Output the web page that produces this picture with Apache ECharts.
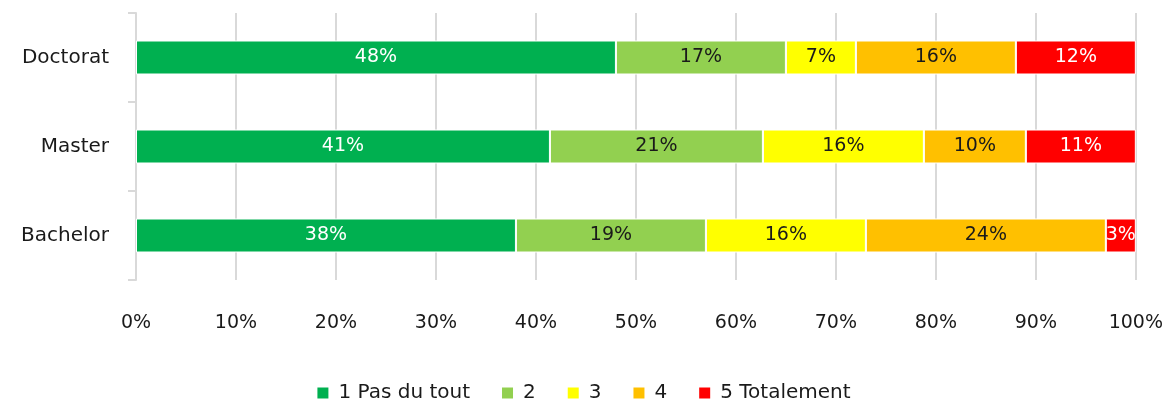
<!DOCTYPE html>
<html>
<head>
<meta charset="utf-8">
<script src="https://cdn.jsdelivr.net/npm/echarts@6/dist/echarts.min.js"></script>
<style>
  html, body { margin: 0; padding: 0; background: #fff; }
  #chart { width: 1166px; height: 403px; }
</style>
</head>
<body>
<div id="chart"></div>
<script>
// Degree levels, top to bottom
const categories = ['Doctorat', 'Master', 'Bachelor'];

// Share of answers per level (%)
const seriesNames = ['1 Pas du tout', '2', '3', '4', '5 Totalement'];
const s1 = [48, 41.4, 38];
const s2 = [17, 21.3, 19];
const s3 = [7, 16.1, 16];
const s4 = [16, 10.2, 24];
const s5 = [12, 11.0, 3];

const xTicks = [0, 10, 20, 30, 40, 50, 60, 70, 80, 90, 100];

const colors = ['#00B050', '#92D050', '#FFFF00', '#FFC000', '#FF0000'];
const labelColors = ['#ffffff', '#1a1a1a', '#1a1a1a', '#1a1a1a', '#ffffff'];
const FONT = 'DejaVu Sans';
const FS = 19;

const values = [s1, s2, s3, s4, s5];

const chart = echarts.init(document.getElementById('chart'), null, { renderer: 'canvas' });

chart.setOption({
  animation: false,
  textStyle: { fontFamily: FONT },
  grid: { left: 136, right: 30, top: 13, bottom: 123, containLabel: false },
  legend: {
    bottom: 0,
    padding: 0,
    left: 'center',
    itemWidth: 13,
    itemHeight: 13,
    itemGap: 30,
    icon: 'rect',
    textStyle: { fontFamily: FONT, fontSize: 20, color: '#1a1a1a', padding: [0, 0, 0, 4] },
    data: seriesNames
  },
  xAxis: {
    type: 'value',
    min: xTicks[0],
    max: xTicks[xTicks.length - 1],
    interval: 10,
    axisLine: { show: false },
    axisTick: { show: false },
    axisLabel: {
      margin: 34,
      fontSize: FS,
      color: '#1a1a1a',
      fontFamily: FONT,
      formatter: v => v + '%'
    },
    splitLine: { show: true, lineStyle: { color: '#D9D9D9', width: 2 } }
  },
  yAxis: {
    type: 'category',
    inverse: true,
    data: categories,
    axisLine: { show: true, lineStyle: { color: '#D9D9D9', width: 2 } },
    axisTick: { show: true, length: 8, lineStyle: { color: '#D9D9D9', width: 2 } },
    axisLabel: { margin: 27, fontSize: 20, color: '#1a1a1a', fontFamily: FONT }
  },
  series: seriesNames.map((name, i) => ({
    name: name,
    type: 'bar',
    stack: 'total',
    barWidth: 34,
    data: values[i],
    itemStyle: { color: colors[i], borderColor: '#ffffff', borderWidth: 1 },
    label: {
      show: true,
      position: 'inside',
      fontSize: FS,
      fontFamily: FONT,
      color: labelColors[i],
      formatter: p => Math.round(p.value) + '%'
    }
  }))
});
</script>
</body>
</html>
